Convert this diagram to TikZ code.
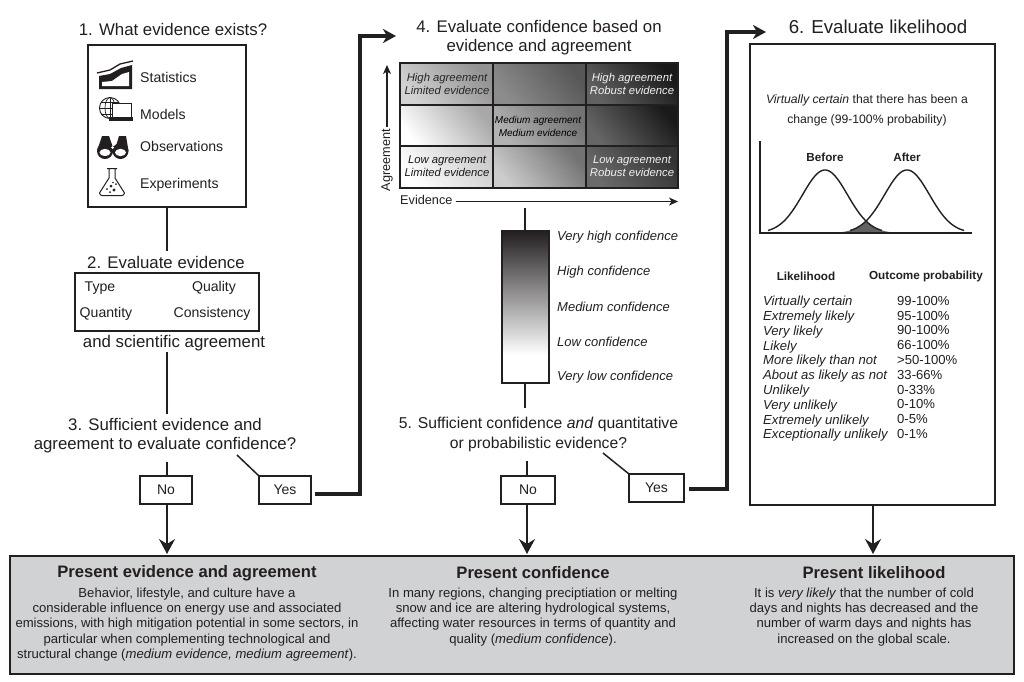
\documentclass[tikz,border=0pt]{standalone}
\usepackage{fontspec}
\setmainfont{Liberation Sans}
\usetikzlibrary{arrows.meta}
\definecolor{ink}{HTML}{231F20}
\definecolor{panelgray}{HTML}{D1D2D4}
\tikzset{
  boxn/.style={draw=ink,line width=1.7pt,fill=white,inner sep=0pt,outer sep=0pt},
  choice/.style={boxn,minimum width=52pt,minimum height=28pt,text=ink,font=\fontsize{14}{16}\selectfont},
  head/.style={text=ink,align=center,inner sep=0pt,font=\fontsize{16.8}{19.5}\selectfont},
  small/.style={text=ink,inner sep=0pt,font=\fontsize{14.1}{16}\selectfont},
  cell/.style={align=center,inner sep=0pt,font=\itshape\fontsize{11.3}{13}\selectfont},
  conf/.style={text=ink,anchor=west,inner sep=0pt,font=\itshape\fontsize{13}{15}\selectfont},
  lik/.style={text=ink,anchor=north west,align=left,inner sep=0pt,font=\fontsize{13.1}{14.8}\selectfont},
  ptitle/.style={text=ink,align=center,inner sep=0pt,font=\bfseries\fontsize{16.6}{18}\selectfont},
  pbody/.style={text=ink,align=center,inner sep=0pt,font=\fontsize{13.1}{15.3}\selectfont},
  boldlabel/.style={text=ink,inner sep=0pt,font=\bfseries\fontsize{11.7}{13}\selectfont},
  thin line/.style={draw=ink,line width=1.5pt},
  down/.style={draw=ink,line width=1.6pt,-{Stealth[length=15pt,width=16pt,inset=5pt]}},
  yesarrow/.style={draw=ink,line width=3.2pt,-{Stealth[length=13pt,width=14pt,inset=4pt]},line join=miter},
  axisarrow/.style={draw=ink,line width=1.2pt,-{Stealth[length=9pt,width=8pt,inset=2.5pt]}},
}
\newcommand{\gcell}[6]{\shade[shading=axis,bottom color=#5,top color=#6,shading angle=-50] (#1,#2) rectangle (#3,#4);}
\begin{document}
\begin{tikzpicture}[x=1pt,y=-1pt]
\useasboundingbox (0,0) rectangle (1024,681);
\fill[white] (0,0) rectangle (1024,681);

% ---- column 1
\node[head] (t1) at (173,29) {1. What evidence exists?};
\node[boxn,minimum width=158pt,minimum height=162pt] (b1) at (167,126) {};
\node[small,anchor=west] (s1) at (140,77.5) {Statistics};
\node[small,anchor=west] (s2) at (140,114.5) {Models};
\node[small,anchor=west] (s3) at (140,146.5) {Observations};
\node[small,anchor=west] (s4) at (140,184.5) {Experiments};

% statistics icon
\fill[ink] (99,76) -- (110,74) -- (121,68) -- (132,65) -- (132,89) -- (99,89) -- cycle;
\fill[white] (102,86) -- (102,82) -- (112,81) -- (122,74) -- (129,72) -- (129,86) -- cycle;
\draw[ink,line width=1.3pt] (97,73) -- (110,70) -- (120,64) -- (133,61);
% models icon
\draw[ink,line width=.9pt] (110,108) circle (10.5);
\draw[ink,line width=.7pt] (110,108) ellipse (5 and 10.5);
\draw[ink,line width=.7pt] (110,97.5) -- (110,118.5) (99.5,108) -- (120.5,108) (101,102) -- (119,102) (101,114) -- (119,114);
\draw[ink,line width=1pt,fill=white] (112,103) rectangle (131,118);
\fill[ink] (109,117) rectangle (133,121);
% binoculars icon
\fill[ink] (105,151) circle (8) (120.5,151) circle (8);
\fill[ink] (102,136) -- (109,136) -- (112.5,146) -- (116,146) -- (119,136) -- (126,136) -- (128.5,151) -- (97,151) -- cycle;
\fill[white] (105,152.5) ellipse (5.5 and 3.6) (120.5,152.5) ellipse (5.5 and 3.6) (112.7,147.5) circle (1.5);
% flask icon
\draw[ink,line width=1pt,line join=round] (107,168.5) -- (117,168.5) (109,168.5) -- (109,178) -- (99.5,193) to[out=-80,in=180] (102,195.5) -- (122,195.5) to[out=0,in=-100] (124.5,193) -- (115,178) -- (115,168.5);
\fill[ink] (111,186) circle (1.5) (114,190) circle (1.6) (107,189) circle (1) (116,184) circle (1) (110,192) circle (1) (113,182.5) circle (.8);

\coordinate (c2) at (167,251);
\draw[thin line] (b1.south) -- (c2);

\node[head] (t2) at (166,262) {2. Evaluate evidence};
\node[boxn,minimum width=184pt,minimum height=58pt] (b2) at (167,302) {};
\node[small] (q1) at (100,288) {Type};
\node[small] (q2) at (214,288) {Quality};
\node[small] (q3) at (106,314) {Quantity};
\node[small] (q4) at (212,314) {Consistency};
\node[head] (t2b) at (174,343.5) {and scientific agreement};
\coordinate (c2a) at (167,352);
\coordinate (c2b) at (167,414);
\draw[thin line] (c2a) -- (c2b);
\node[head] (t3) at (165,435.5) {3. Sufficient evidence and\\agreement to evaluate confidence?};

\node[choice] (no1) at (166,490) {No};
\node[choice] (yes1) at (285,490) {Yes};
\coordinate (c3a) at (167,462);
\draw[thin line] (c3a) -- (c3a |- no1.north);
\coordinate (c3b) at (237,455);
\draw[thin line] (c3b) -- (yes1.north west);

% ---- bottom panel
\node[draw=ink,line width=2pt,fill=panelgray,minimum width=1004pt,minimum height=118pt,inner sep=0pt,outer sep=0pt] (panel) at (512,615) {};
\coordinate (a1) at (167,554);
\draw[down] (no1.south -| a1) -- (a1);

\coordinate (y1s) at (315,494);
\coordinate (y1m) at (360,494);
\coordinate (y1t) at (360,36);
\coordinate (y1e) at (396,36);
\draw[yesarrow] (y1s) -- (y1m) -- (y1t) -- (y1e);

\node[ptitle] (p1) at (187,573) {Present evidence and agreement};
\node[pbody,anchor=north] (p1b) at (187,587.5) {Behavior, lifestyle, and culture have a\\considerable influence on energy use and associated\\emissions, with high mitigation potential in some sectors, in\\particular when complementing technological and\\structural change (\textit{medium evidence, medium agreement}).};
\node[ptitle] (p2) at (533,573) {Present confidence};
\node[pbody,anchor=north] (p2b) at (533,587.5) {In many regions, changing preciptiation or melting\\snow and ice are altering hydrological systems,\\affecting water resources in terms of quantity and\\quality (\textit{medium confidence}).};
\node[ptitle] (p3) at (874,573) {Present likelihood};
\node[pbody,anchor=north] (p3b) at (864,587.5) {It is \textit{very likely} that the number of cold\\days and nights has decreased and the\\number of warm days and nights has\\increased on the global scale.};

% ---- column 2
\node[head] (t4) at (539,37.5) {4. Evaluate confidence based on\\evidence and agreement};
\gcell{400}{63}{493}{105}{gray!35!white}{gray!85!white}
\gcell{493}{63}{586}{105}{gray!90!white}{black!66}
\gcell{586}{63}{678}{105}{black!62}{black!90}
\gcell{400}{105}{493}{146}{white}{black!34}
\gcell{493}{105}{586}{146}{black!30}{black!55}
\gcell{586}{105}{678}{146}{black!60}{black!90}
\gcell{400}{146}{493}{188}{white}{black!20}
\gcell{493}{146}{586}{188}{black!20}{black!55}
\gcell{586}{146}{678}{188}{black!58}{black!80}
\draw[ink,line width=1.5pt] (400,63) rectangle (678,188) (493,63) -- (493,188) (586,63) -- (586,188) (400,105) -- (678,105) (400,146) -- (678,146);
\node[cell,text=black!85] (m1) at (447,84) {High agreement\\Limited evidence};
\node[cell,text=black!5] (m2) at (632,84) {High agreement\\Robust evidence};
\node[cell,text=black,font=\itshape\fontsize{10}{13}\selectfont] (m3) at (538,126) {Medium agreement\\Medium evidence};
\node[cell,text=black!90] (m4) at (447,166) {Low agreement\\Limited evidence};
\node[cell,text=black!5] (m5) at (632,166) {Low agreement\\Robust evidence};
\node[text=ink,rotate=90,inner sep=0pt,font=\fontsize{12.7}{15}\selectfont] (lagr) at (387,160) {Agreement};
\coordinate (ag1) at (387,127);
\coordinate (ag2) at (387,65);
\draw[axisarrow] (ag1) -- (ag2);
\node[text=ink,inner sep=0pt,anchor=west,font=\fontsize{12.7}{15}\selectfont] (lev) at (400,200) {Evidence};
\coordinate (ev1) at (678,201.5);
\draw[axisarrow] (lev.east |- ev1) ++(3,0) -- (ev1);

\coordinate (c4a) at (525,208);
\node[inner sep=0pt,outer sep=0pt,minimum width=47pt,minimum height=152pt] (bar) at (525.5,307) {};
\shade[top color=ink,bottom color=white] (502,231) rectangle (549,355);
\draw[draw=ink,line width=1.4pt] (bar.north west) rectangle (bar.south east);
\draw[thin line] (c4a) -- (c4a |- bar.north);
\coordinate (c4b) at (525,408);
\draw[thin line] (c4b |- bar.south) -- (c4b);
\node[conf] (v1) at (557,237.5) {Very high confidence};
\node[conf] (v2) at (557,272.5) {High confidence};
\node[conf] (v3) at (557,307) {Medium confidence};
\node[conf] (v4) at (557,342) {Low confidence};
\node[conf] (v5) at (557,377.5) {Very low confidence};

\node[head,font=\fontsize{15.7}{19.5}\selectfont] (t5) at (538.5,434.5) {5. Sufficient confidence \textit{and} quantitative\\or probabilistic evidence?};
\node[choice,minimum width=54pt] (no2) at (528,490) {No};
\node[choice,minimum width=55pt] (yes2) at (656.5,488) {Yes};
\coordinate (c5a) at (527,461);
\draw[thin line] (c5a) -- (c5a |- no2.north);
\coordinate (c5b) at (603,453);
\draw[thin line] (c5b) -- (yes2.north west);
\coordinate (a2) at (527,554);
\draw[down] (no2.south -| a2) -- (a2);
\coordinate (y2s) at (689,489);
\coordinate (y2m) at (727,489);
\coordinate (y2t) at (727,32);
\coordinate (y2e) at (766,32);
\draw[yesarrow] (y2s) -- (y2m) -- (y2t) -- (y2e);

% ---- column 3
\node[head,font=\fontsize{18.7}{21}\selectfont] (t6) at (878,27) {6. Evaluate likelihood};
\node[boxn,minimum width=245pt,minimum height=461pt] (b6) at (872.5,274.5) {};
\node[text=ink,align=center,inner sep=0pt,font=\fontsize{12.2}{20}\selectfont] (lead) at (867,110) {\textit{Virtually certain} that there has been a\\change (99-100\% probability)};
\fill[black!62] plot[domain=838:866,samples=25] (\x,{233-63*exp(-(\x-907)*(\x-907)/1012)}) -- plot[domain=866:894,samples=25] (\x,{233-63*exp(-(\x-825)*(\x-825)/1012)}) -- cycle;
\draw[ink,line width=1.4pt] plot[domain=768:882,samples=70] (\x,{233-63*exp(-(\x-825)*(\x-825)/1012)});
\draw[ink,line width=1.4pt] plot[domain=850:964,samples=70] (\x,{233-63*exp(-(\x-907)*(\x-907)/1012)});
\coordinate (ax1) at (760,141);
\coordinate (ax2) at (760,233);
\coordinate (ax3) at (972,233);
\draw[ink,line width=1.4pt] (ax1) -- (ax2) -- (ax3);
\node[boldlabel] (lb) at (825,157.5) {Before};
\node[boldlabel] (la) at (907,157.5) {After};
\node[boldlabel] (hl) at (806,276) {Likelihood};
\node[boldlabel] (ho) at (926,276) {Outcome probability};
\node[lik,font=\itshape\fontsize{13.1}{14.8}\selectfont] (tl) at (763,296) {Virtually certain\\Extremely likely\\Very likely\\Likely\\More likely than not\\About as likely as not\\Unlikely\\Very unlikely\\Extremely unlikely\\Exceptionally unlikely};
\node[lik] (tr) at (897,296) {99-100\%\\95-100\%\\90-100\%\\66-100\%\\>50-100\%\\33-66\%\\0-33\%\\0-10\%\\0-5\%\\0-1\%};
\coordinate (a3) at (873,554);
\draw[down] (b6.south -| a3) -- (a3);
\end{tikzpicture}
\end{document}
